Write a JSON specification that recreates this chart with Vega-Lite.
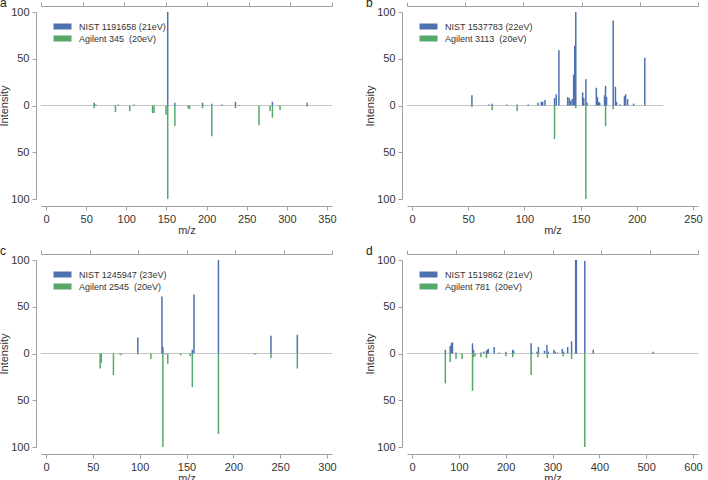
{
  "$schema": "https://vega.github.io/schema/vega-lite/v6.json",
  "padding": {"left": -2, "top": -3, "right": 0, "bottom": 0},
  "autosize": {"type": "pad"},
  "columns": 2,
  "spacing": {"row": 61, "column": 75},
  "bounds": "flush",
  "datasets": {
    "a": [
      {"mz": 60, "intensity": 3, "series": "NIST"}, {"mz": 62, "intensity": 1, "series": "NIST"},
      {"mz": 90, "intensity": 1, "series": "NIST"}, {"mz": 109.5, "intensity": 1, "series": "NIST"},
      {"mz": 151.6, "intensity": 100, "series": "NIST"}, {"mz": 160.5, "intensity": 3, "series": "NIST"},
      {"mz": 195, "intensity": 3, "series": "NIST"}, {"mz": 206.5, "intensity": 2, "series": "NIST"},
      {"mz": 219.5, "intensity": 1, "series": "NIST"}, {"mz": 236, "intensity": 4, "series": "NIST"},
      {"mz": 241, "intensity": 0.6, "series": "NIST"}, {"mz": 282, "intensity": 4, "series": "NIST"},
      {"mz": 325.3, "intensity": 3, "series": "NIST"},
      {"mz": 60, "intensity": -3, "series": "Agilent"}, {"mz": 86.5, "intensity": -7, "series": "Agilent"},
      {"mz": 104.3, "intensity": -6, "series": "Agilent"}, {"mz": 132.7, "intensity": -8, "series": "Agilent"},
      {"mz": 134.5, "intensity": -8, "series": "Agilent"}, {"mz": 149.5, "intensity": -10, "series": "Agilent"},
      {"mz": 151.6, "intensity": -100, "series": "Agilent"}, {"mz": 160.5, "intensity": -22, "series": "Agilent"},
      {"mz": 177, "intensity": -3, "series": "Agilent"}, {"mz": 178.8, "intensity": -4, "series": "Agilent"},
      {"mz": 195, "intensity": -3, "series": "Agilent"}, {"mz": 206.5, "intensity": -33, "series": "Agilent"},
      {"mz": 236, "intensity": -3, "series": "Agilent"}, {"mz": 265.3, "intensity": -21, "series": "Agilent"},
      {"mz": 279, "intensity": -6, "series": "Agilent"}, {"mz": 282, "intensity": -13, "series": "Agilent"},
      {"mz": 291.5, "intensity": -5, "series": "Agilent"}, {"mz": 325.3, "intensity": -1, "series": "Agilent"}
    ],
    "a_base": [{"start": 0, "end": 350}],
    "b": [
      {"mz": 53.3, "intensity": 11, "series": "NIST"}, {"mz": 68.3, "intensity": 1, "series": "NIST"},
      {"mz": 71.3, "intensity": 2, "series": "NIST"}, {"mz": 84.3, "intensity": 1, "series": "NIST"},
      {"mz": 93.5, "intensity": 1, "series": "NIST"}, {"mz": 103.4, "intensity": 1, "series": "NIST"},
      {"mz": 112, "intensity": 3, "series": "NIST"}, {"mz": 115, "intensity": 4, "series": "NIST"},
      {"mz": 116.3, "intensity": 4, "series": "NIST"}, {"mz": 118.3, "intensity": 6, "series": "NIST"},
      {"mz": 126.8, "intensity": 8, "series": "NIST"}, {"mz": 128.3, "intensity": 12, "series": "NIST"},
      {"mz": 130.7, "intensity": 59, "series": "NIST"}, {"mz": 138.5, "intensity": 9, "series": "NIST"},
      {"mz": 139.8, "intensity": 8, "series": "NIST"}, {"mz": 141, "intensity": 5, "series": "NIST"},
      {"mz": 142.5, "intensity": 7, "series": "NIST"}, {"mz": 143.8, "intensity": 33, "series": "NIST"},
      {"mz": 144.8, "intensity": 64, "series": "NIST"}, {"mz": 145.7, "intensity": 100, "series": "NIST"},
      {"mz": 151.8, "intensity": 14, "series": "NIST"}, {"mz": 152.8, "intensity": 8, "series": "NIST"},
      {"mz": 154.7, "intensity": 28, "series": "NIST"}, {"mz": 155.8, "intensity": 3, "series": "NIST"},
      {"mz": 164, "intensity": 19, "series": "NIST"}, {"mz": 165, "intensity": 9, "series": "NIST"},
      {"mz": 166, "intensity": 4, "series": "NIST"}, {"mz": 167, "intensity": 3, "series": "NIST"},
      {"mz": 171.3, "intensity": 11, "series": "NIST"}, {"mz": 172.2, "intensity": 21, "series": "NIST"},
      {"mz": 173.1, "intensity": 9, "series": "NIST"}, {"mz": 179, "intensity": 91, "series": "NIST"},
      {"mz": 181, "intensity": 20, "series": "NIST"}, {"mz": 182, "intensity": 4, "series": "NIST"},
      {"mz": 185, "intensity": 1, "series": "NIST"}, {"mz": 189, "intensity": 10, "series": "NIST"},
      {"mz": 190, "intensity": 12, "series": "NIST"}, {"mz": 191.8, "intensity": 7, "series": "NIST"},
      {"mz": 197.2, "intensity": 2, "series": "NIST"}, {"mz": 207.1, "intensity": 51, "series": "NIST"},
      {"mz": 53.3, "intensity": -2, "series": "Agilent"}, {"mz": 71.3, "intensity": -5, "series": "Agilent"},
      {"mz": 93.5, "intensity": -6, "series": "Agilent"}, {"mz": 126.8, "intensity": -36, "series": "Agilent"},
      {"mz": 145.7, "intensity": -3, "series": "Agilent"}, {"mz": 154.7, "intensity": -100, "series": "Agilent"},
      {"mz": 172.2, "intensity": -22, "series": "Agilent"}, {"mz": 179, "intensity": -4, "series": "Agilent"}
    ],
    "b_base": [{"start": 0, "end": 220}],
    "c": [
      {"mz": 98, "intensity": 17, "series": "NIST"}, {"mz": 123.8, "intensity": 61, "series": "NIST"},
      {"mz": 124.8, "intensity": 7, "series": "NIST"}, {"mz": 156.2, "intensity": 4, "series": "NIST"},
      {"mz": 158, "intensity": 63, "series": "NIST"}, {"mz": 184.1, "intensity": 100, "series": "NIST"},
      {"mz": 223, "intensity": 0.5, "series": "NIST"}, {"mz": 240.2, "intensity": 19, "series": "NIST"},
      {"mz": 268.3, "intensity": 20, "series": "NIST"},
      {"mz": 57.8, "intensity": -16, "series": "Agilent"}, {"mz": 59, "intensity": -10, "series": "Agilent"},
      {"mz": 72, "intensity": -23, "series": "Agilent"}, {"mz": 78.5, "intensity": -1, "series": "Agilent"},
      {"mz": 80.3, "intensity": -2, "series": "Agilent"}, {"mz": 98, "intensity": -1, "series": "Agilent"},
      {"mz": 112, "intensity": -6, "series": "Agilent"}, {"mz": 124.8, "intensity": -100, "series": "Agilent"},
      {"mz": 127.5, "intensity": -1, "series": "Agilent"}, {"mz": 130, "intensity": -11, "series": "Agilent"},
      {"mz": 143.8, "intensity": -2, "series": "Agilent"}, {"mz": 154, "intensity": -3, "series": "Agilent"},
      {"mz": 156.2, "intensity": -36, "series": "Agilent"}, {"mz": 184.1, "intensity": -86, "series": "Agilent"},
      {"mz": 222.5, "intensity": -1, "series": "Agilent"}, {"mz": 224, "intensity": -1, "series": "Agilent"},
      {"mz": 240.2, "intensity": -5, "series": "Agilent"}, {"mz": 268.3, "intensity": -16, "series": "Agilent"}
    ],
    "c_base": [{"start": 0, "end": 300}],
    "d": [
      {"mz": 71.2, "intensity": 4, "series": "NIST"}, {"mz": 81.5, "intensity": 8, "series": "NIST"},
      {"mz": 84.3, "intensity": 11, "series": "NIST"}, {"mz": 86.4, "intensity": 12, "series": "NIST"},
      {"mz": 94, "intensity": 1, "series": "NIST"}, {"mz": 129.2, "intensity": 11, "series": "NIST"},
      {"mz": 131.3, "intensity": 4, "series": "NIST"}, {"mz": 147, "intensity": 1, "series": "NIST"},
      {"mz": 153, "intensity": 2, "series": "NIST"}, {"mz": 159, "intensity": 3, "series": "NIST"},
      {"mz": 161, "intensity": 4, "series": "NIST"}, {"mz": 163, "intensity": 5, "series": "NIST"},
      {"mz": 175.5, "intensity": 7, "series": "NIST"}, {"mz": 186.6, "intensity": 1, "series": "NIST"},
      {"mz": 200.4, "intensity": 2, "series": "NIST"}, {"mz": 215, "intensity": 4, "series": "NIST"},
      {"mz": 217, "intensity": 3, "series": "NIST"}, {"mz": 254.3, "intensity": 11, "series": "NIST"},
      {"mz": 256.4, "intensity": 1, "series": "NIST"}, {"mz": 267, "intensity": 2, "series": "NIST"},
      {"mz": 270, "intensity": 7, "series": "NIST"}, {"mz": 283, "intensity": 3, "series": "NIST"},
      {"mz": 288, "intensity": 9, "series": "NIST"}, {"mz": 291, "intensity": 2, "series": "NIST"},
      {"mz": 303, "intensity": 4, "series": "NIST"}, {"mz": 306, "intensity": 2, "series": "NIST"},
      {"mz": 311, "intensity": 1, "series": "NIST"}, {"mz": 321, "intensity": 5, "series": "NIST"},
      {"mz": 323.5, "intensity": 2, "series": "NIST"}, {"mz": 332.4, "intensity": 7, "series": "NIST"},
      {"mz": 340.7, "intensity": 13, "series": "NIST"}, {"mz": 349.5, "intensity": 100, "series": "NIST"},
      {"mz": 350.9, "intensity": 100, "series": "NIST"}, {"mz": 369, "intensity": 99, "series": "NIST"},
      {"mz": 387, "intensity": 4, "series": "NIST"}, {"mz": 515, "intensity": 2, "series": "NIST"},
      {"mz": 71.2, "intensity": -32, "series": "Agilent"}, {"mz": 81.5, "intensity": -9, "series": "Agilent"},
      {"mz": 94, "intensity": -6, "series": "Agilent"}, {"mz": 107, "intensity": -6, "series": "Agilent"},
      {"mz": 129.2, "intensity": -40, "series": "Agilent"}, {"mz": 131.3, "intensity": -4, "series": "Agilent"},
      {"mz": 134.8, "intensity": -3, "series": "Agilent"}, {"mz": 147, "intensity": -4, "series": "Agilent"},
      {"mz": 159, "intensity": -5, "series": "Agilent"}, {"mz": 200.4, "intensity": -3, "series": "Agilent"},
      {"mz": 215, "intensity": -4, "series": "Agilent"}, {"mz": 254.3, "intensity": -23, "series": "Agilent"},
      {"mz": 269, "intensity": -4, "series": "Agilent"}, {"mz": 289, "intensity": -5, "series": "Agilent"},
      {"mz": 322.7, "intensity": -3, "series": "Agilent"}, {"mz": 340.7, "intensity": -6, "series": "Agilent"},
      {"mz": 369, "intensity": -100, "series": "Agilent"}
    ],
    "d_base": [{"start": 0, "end": 600}]
  },
  "concat": [
    {
      "width": 291, "height": 187,
      "title": {"text": "a"},
      "resolve": {"scale": {"x": "independent"}, "axis": {"x": "independent"}},
      "layer": [
        {
          "data": {"name": "a_base"},
          "mark": {"type": "rule", "color": "#c4c4c4", "strokeWidth": 1},
          "encoding": {
            "x": {"field": "start", "type": "quantitative", "scale": {"domain": [0, 350], "nice": false},
                  "axis": {"orient": "top", "title": null, "labelOpacity": 0, "labelFontSize": 1, "labelPadding": 0, "offset": 6, "values": [0, 50, 100, 150, 200, 250, 300, 350]}},
            "x2": {"field": "end"},
            "y": {"datum": 0, "type": "quantitative", "scale": {"domain": [-100, 100]},
                  "axis": {"title": "Intensity", "values": [-100, -50, 0, 50, 100], "labelExpr": "abs(datum.value)"}}
          }
        },
        {
          "data": {"name": "a"},
          "mark": {"type": "bar", "width": 1.5},
          "encoding": {
            "x": {"field": "mz", "type": "quantitative", "scale": {"domain": [0, 350], "nice": false},
                  "axis": {"orient": "bottom", "title": "m/z", "values": [0, 50, 100, 150, 200, 250, 300, 350]}},
            "y": {"field": "intensity", "type": "quantitative", "scale": {"domain": [-100, 100]},
                  "axis": {"title": "Intensity", "values": [-100, -50, 0, 50, 100], "labelExpr": "abs(datum.value)"}},
            "y2": {"datum": 0},
            "color": {"field": "series", "type": "nominal",
                      "scale": {"domain": ["NIST", "Agilent"], "range": ["#4c72b0", "#55a868"]},
                      "legend": {"labelExpr": "datum.label == 'NIST' ? 'NIST 1191658 (21eV)' : 'Agilent 345\u00a0 (20eV)'"}}
          }
        }
      ]
    },
    {
      "width": 291, "height": 187,
      "title": {"text": "b"},
      "resolve": {"scale": {"x": "independent"}, "axis": {"x": "independent"}},
      "layer": [
        {
          "data": {"name": "b_base"},
          "mark": {"type": "rule", "color": "#c4c4c4", "strokeWidth": 1},
          "encoding": {
            "x": {"field": "start", "type": "quantitative", "scale": {"domain": [0, 250], "nice": false},
                  "axis": {"orient": "top", "title": null, "labelOpacity": 0, "labelFontSize": 1, "labelPadding": 0, "offset": 6, "values": [0, 50, 100, 150, 200, 250]}},
            "x2": {"field": "end"},
            "y": {"datum": 0, "type": "quantitative", "scale": {"domain": [-100, 100]},
                  "axis": {"title": "Intensity", "values": [-100, -50, 0, 50, 100], "labelExpr": "abs(datum.value)"}}
          }
        },
        {
          "data": {"name": "b"},
          "mark": {"type": "bar", "width": 1.5},
          "encoding": {
            "x": {"field": "mz", "type": "quantitative", "scale": {"domain": [0, 250], "nice": false},
                  "axis": {"orient": "bottom", "title": "m/z", "values": [0, 50, 100, 150, 200, 250]}},
            "y": {"field": "intensity", "type": "quantitative", "scale": {"domain": [-100, 100]},
                  "axis": {"title": "Intensity", "values": [-100, -50, 0, 50, 100], "labelExpr": "abs(datum.value)"}},
            "y2": {"datum": 0},
            "color": {"field": "series", "type": "nominal",
                      "scale": {"domain": ["NIST", "Agilent"], "range": ["#4c72b0", "#55a868"]},
                      "legend": {"labelExpr": "datum.label == 'NIST' ? 'NIST 1537783 (22eV)' : 'Agilent 3113\u00a0 (20eV)'"}}
          }
        }
      ]
    },
    {
      "width": 291, "height": 187,
      "title": {"text": "c"},
      "resolve": {"scale": {"x": "independent"}, "axis": {"x": "independent"}},
      "layer": [
        {
          "data": {"name": "c_base"},
          "mark": {"type": "rule", "color": "#c4c4c4", "strokeWidth": 1},
          "encoding": {
            "x": {"field": "start", "type": "quantitative", "scale": {"domain": [0, 300], "nice": false},
                  "axis": {"orient": "top", "title": null, "labelOpacity": 0, "labelFontSize": 1, "labelPadding": 0, "offset": 6, "values": [0, 50, 100, 150, 200, 250, 300]}},
            "x2": {"field": "end"},
            "y": {"datum": 0, "type": "quantitative", "scale": {"domain": [-100, 100]},
                  "axis": {"title": "Intensity", "values": [-100, -50, 0, 50, 100], "labelExpr": "abs(datum.value)"}}
          }
        },
        {
          "data": {"name": "c"},
          "mark": {"type": "bar", "width": 1.5},
          "encoding": {
            "x": {"field": "mz", "type": "quantitative", "scale": {"domain": [0, 300], "nice": false},
                  "axis": {"orient": "bottom", "title": "m/z", "values": [0, 50, 100, 150, 200, 250, 300]}},
            "y": {"field": "intensity", "type": "quantitative", "scale": {"domain": [-100, 100]},
                  "axis": {"title": "Intensity", "values": [-100, -50, 0, 50, 100], "labelExpr": "abs(datum.value)"}},
            "y2": {"datum": 0},
            "color": {"field": "series", "type": "nominal",
                      "scale": {"domain": ["NIST", "Agilent"], "range": ["#4c72b0", "#55a868"]},
                      "legend": {"labelExpr": "datum.label == 'NIST' ? 'NIST 1245947 (23eV)' : 'Agilent 2545\u00a0 (20eV)'"}}
          }
        }
      ]
    },
    {
      "width": 291, "height": 187,
      "title": {"text": "d"},
      "resolve": {"scale": {"x": "independent"}, "axis": {"x": "independent"}},
      "layer": [
        {
          "data": {"name": "d_base"},
          "mark": {"type": "rule", "color": "#c4c4c4", "strokeWidth": 1},
          "encoding": {
            "x": {"field": "start", "type": "quantitative", "scale": {"domain": [0, 600], "nice": false},
                  "axis": {"orient": "top", "title": null, "labelOpacity": 0, "labelFontSize": 1, "labelPadding": 0, "offset": 6, "values": [0, 100, 200, 300, 400, 500, 600]}},
            "x2": {"field": "end"},
            "y": {"datum": 0, "type": "quantitative", "scale": {"domain": [-100, 100]},
                  "axis": {"title": "Intensity", "values": [-100, -50, 0, 50, 100], "labelExpr": "abs(datum.value)"}}
          }
        },
        {
          "data": {"name": "d"},
          "mark": {"type": "bar", "width": 1.5},
          "encoding": {
            "x": {"field": "mz", "type": "quantitative", "scale": {"domain": [0, 600], "nice": false},
                  "axis": {"orient": "bottom", "title": "m/z", "values": [0, 100, 200, 300, 400, 500, 600]}},
            "y": {"field": "intensity", "type": "quantitative", "scale": {"domain": [-100, 100]},
                  "axis": {"title": "Intensity", "values": [-100, -50, 0, 50, 100], "labelExpr": "abs(datum.value)"}},
            "y2": {"datum": 0},
            "color": {"field": "series", "type": "nominal",
                      "scale": {"domain": ["NIST", "Agilent"], "range": ["#4c72b0", "#55a868"]},
                      "legend": {"labelExpr": "datum.label == 'NIST' ? 'NIST 1519862 (21eV)' : 'Agilent 781\u00a0 (20eV)'"}}
          }
        }
      ]
    }
  ],
  "resolve": {"scale": {"color": "independent"}, "legend": {"color": "independent"}},
  "config": {
    "font": "Liberation Sans",
    "view": {"stroke": null},
    "axis": {"domainColor": "#a0a0a0", "tickColor": "#a0a0a0", "labelColor": "#333333", "titleColor": "#333333",
             "labelFontSize": 11, "titleFontSize": 11, "titleFontWeight": "normal", "grid": false,
             "tickSize": 4, "domainWidth": 1, "tickWidth": 1},
    "axisX": {"offset": 7, "labelPadding": 3, "titlePadding": 0},
    "axisY": {"offset": 5, "labelPadding": 3, "titlePadding": 1},
    "legend": {"orient": "none", "legendX": 17, "legendY": 10, "title": null,
               "symbolType": "M-3,-1L3,-1L3,1L-3,1Z", "symbolSize": 36, "symbolStrokeWidth": 0,
               "labelFontSize": 9, "labelColor": "#333333", "labelOffset": 12, "rowPadding": 2, "padding": 0},
    "title": {"anchor": "start", "frame": "group", "dx": -41, "offset": 0, "dy": 13, "fontSize": 12, "fontWeight": "normal", "color": "#222222"}
  }
}
